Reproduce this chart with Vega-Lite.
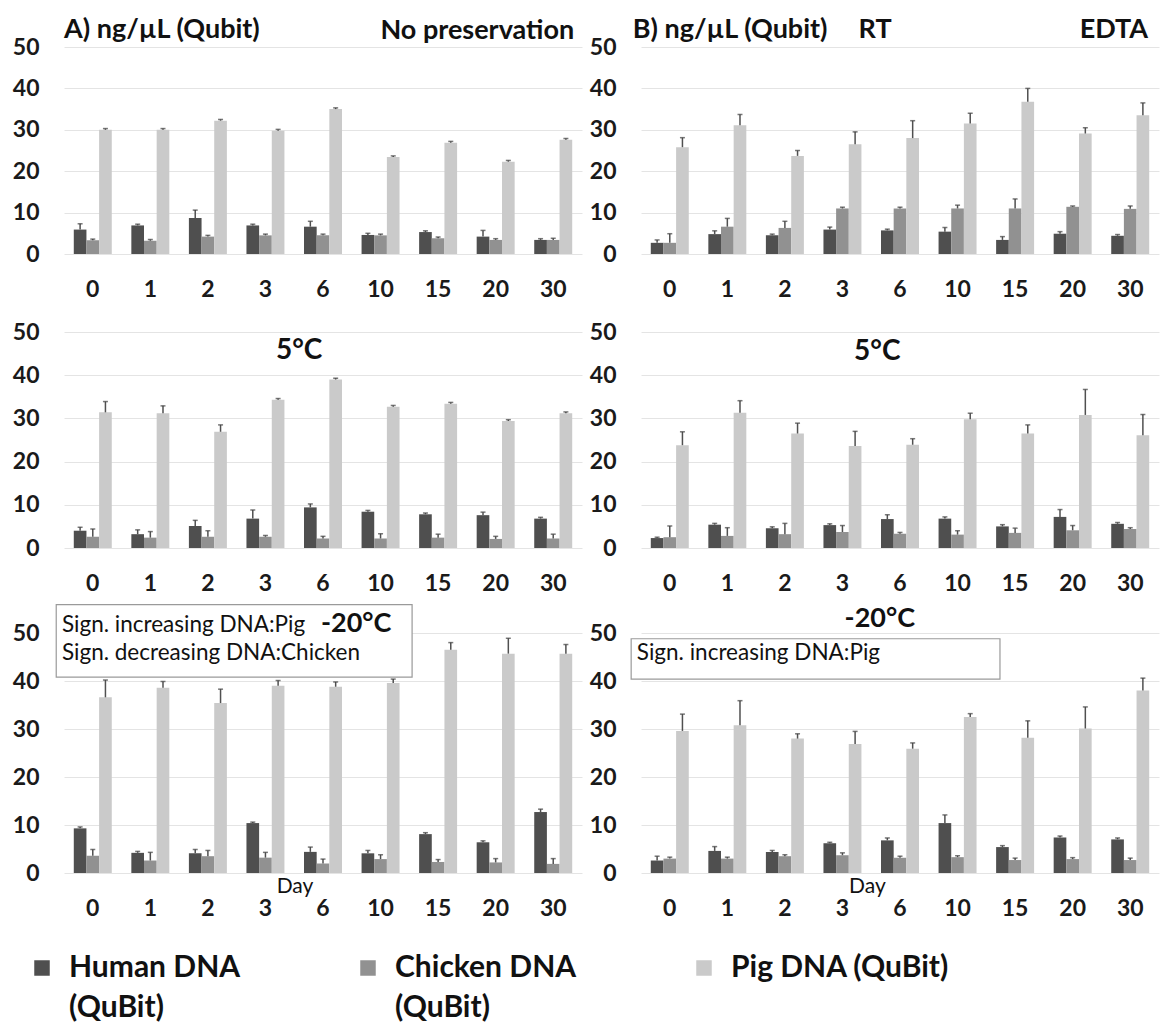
{
  "$schema": "https://vega.github.io/schema/vega-lite/v6.json",
  "background": "white",
  "padding": {"left": 12, "top": 16, "right": 6, "bottom": 6},
  "datasets": {
    "bars": [
      {"p":"A1","day":0,"s":"Human DNA (QuBit)","v":5.9,"e":7.3},
      {"p":"A1","day":0,"s":"Chicken DNA (QuBit)","v":3.3,"e":3.6},
      {"p":"A1","day":0,"s":"Pig DNA (QuBit)","v":30.0,"e":30.3},
      {"p":"A1","day":1,"s":"Human DNA (QuBit)","v":6.9,"e":7.2},
      {"p":"A1","day":1,"s":"Chicken DNA (QuBit)","v":3.2,"e":3.5},
      {"p":"A1","day":1,"s":"Pig DNA (QuBit)","v":30.0,"e":30.3},
      {"p":"A1","day":2,"s":"Human DNA (QuBit)","v":8.7,"e":10.6},
      {"p":"A1","day":2,"s":"Chicken DNA (QuBit)","v":4.2,"e":4.5},
      {"p":"A1","day":2,"s":"Pig DNA (QuBit)","v":32.2,"e":32.5},
      {"p":"A1","day":3,"s":"Human DNA (QuBit)","v":6.9,"e":7.2},
      {"p":"A1","day":3,"s":"Chicken DNA (QuBit)","v":4.5,"e":4.8},
      {"p":"A1","day":3,"s":"Pig DNA (QuBit)","v":29.8,"e":30.1},
      {"p":"A1","day":6,"s":"Human DNA (QuBit)","v":6.6,"e":7.9},
      {"p":"A1","day":6,"s":"Chicken DNA (QuBit)","v":4.5,"e":4.8},
      {"p":"A1","day":6,"s":"Pig DNA (QuBit)","v":35.0,"e":35.3},
      {"p":"A1","day":10,"s":"Human DNA (QuBit)","v":4.6,"e":5.0},
      {"p":"A1","day":10,"s":"Chicken DNA (QuBit)","v":4.5,"e":4.8},
      {"p":"A1","day":10,"s":"Pig DNA (QuBit)","v":23.4,"e":23.7},
      {"p":"A1","day":15,"s":"Human DNA (QuBit)","v":5.3,"e":5.6},
      {"p":"A1","day":15,"s":"Chicken DNA (QuBit)","v":3.8,"e":4.1},
      {"p":"A1","day":15,"s":"Pig DNA (QuBit)","v":26.9,"e":27.2},
      {"p":"A1","day":20,"s":"Human DNA (QuBit)","v":4.2,"e":5.7},
      {"p":"A1","day":20,"s":"Chicken DNA (QuBit)","v":3.4,"e":3.7},
      {"p":"A1","day":20,"s":"Pig DNA (QuBit)","v":22.3,"e":22.6},
      {"p":"A1","day":30,"s":"Human DNA (QuBit)","v":3.4,"e":3.7},
      {"p":"A1","day":30,"s":"Chicken DNA (QuBit)","v":3.4,"e":3.8},
      {"p":"A1","day":30,"s":"Pig DNA (QuBit)","v":27.6,"e":27.9},

      {"p":"B1","day":0,"s":"Human DNA (QuBit)","v":2.7,"e":3.4},
      {"p":"B1","day":0,"s":"Chicken DNA (QuBit)","v":2.7,"e":4.9},
      {"p":"B1","day":0,"s":"Pig DNA (QuBit)","v":25.8,"e":28.1},
      {"p":"B1","day":1,"s":"Human DNA (QuBit)","v":4.8,"e":5.6},
      {"p":"B1","day":1,"s":"Chicken DNA (QuBit)","v":6.6,"e":8.6},
      {"p":"B1","day":1,"s":"Pig DNA (QuBit)","v":31.1,"e":33.7},
      {"p":"B1","day":2,"s":"Human DNA (QuBit)","v":4.5,"e":4.8},
      {"p":"B1","day":2,"s":"Chicken DNA (QuBit)","v":6.3,"e":7.9},
      {"p":"B1","day":2,"s":"Pig DNA (QuBit)","v":23.7,"e":25.0},
      {"p":"B1","day":3,"s":"Human DNA (QuBit)","v":5.9,"e":6.5},
      {"p":"B1","day":3,"s":"Chicken DNA (QuBit)","v":11.0,"e":11.3},
      {"p":"B1","day":3,"s":"Pig DNA (QuBit)","v":26.5,"e":29.5},
      {"p":"B1","day":6,"s":"Human DNA (QuBit)","v":5.7,"e":6.0},
      {"p":"B1","day":6,"s":"Chicken DNA (QuBit)","v":11.0,"e":11.3},
      {"p":"B1","day":6,"s":"Pig DNA (QuBit)","v":28.0,"e":32.2},
      {"p":"B1","day":10,"s":"Human DNA (QuBit)","v":5.4,"e":6.4},
      {"p":"B1","day":10,"s":"Chicken DNA (QuBit)","v":11.0,"e":11.8},
      {"p":"B1","day":10,"s":"Pig DNA (QuBit)","v":31.5,"e":34.0},
      {"p":"B1","day":15,"s":"Human DNA (QuBit)","v":3.4,"e":4.2},
      {"p":"B1","day":15,"s":"Chicken DNA (QuBit)","v":11.0,"e":13.3},
      {"p":"B1","day":15,"s":"Pig DNA (QuBit)","v":36.8,"e":40.0},
      {"p":"B1","day":20,"s":"Human DNA (QuBit)","v":4.9,"e":5.4},
      {"p":"B1","day":20,"s":"Chicken DNA (QuBit)","v":11.4,"e":11.6},
      {"p":"B1","day":20,"s":"Pig DNA (QuBit)","v":29.1,"e":30.5},
      {"p":"B1","day":30,"s":"Human DNA (QuBit)","v":4.4,"e":4.7},
      {"p":"B1","day":30,"s":"Chicken DNA (QuBit)","v":10.9,"e":11.6},
      {"p":"B1","day":30,"s":"Pig DNA (QuBit)","v":33.5,"e":36.5},

      {"p":"A2","day":0,"s":"Human DNA (QuBit)","v":4.0,"e":4.8},
      {"p":"A2","day":0,"s":"Chicken DNA (QuBit)","v":2.6,"e":4.4},
      {"p":"A2","day":0,"s":"Pig DNA (QuBit)","v":31.4,"e":33.9},
      {"p":"A2","day":1,"s":"Human DNA (QuBit)","v":3.2,"e":4.2},
      {"p":"A2","day":1,"s":"Chicken DNA (QuBit)","v":2.4,"e":3.8},
      {"p":"A2","day":1,"s":"Pig DNA (QuBit)","v":31.2,"e":32.9},
      {"p":"A2","day":2,"s":"Human DNA (QuBit)","v":5.1,"e":6.4},
      {"p":"A2","day":2,"s":"Chicken DNA (QuBit)","v":2.6,"e":4.0},
      {"p":"A2","day":2,"s":"Pig DNA (QuBit)","v":26.9,"e":28.5},
      {"p":"A2","day":3,"s":"Human DNA (QuBit)","v":6.8,"e":8.8},
      {"p":"A2","day":3,"s":"Chicken DNA (QuBit)","v":2.6,"e":2.9},
      {"p":"A2","day":3,"s":"Pig DNA (QuBit)","v":34.3,"e":34.6},
      {"p":"A2","day":6,"s":"Human DNA (QuBit)","v":9.4,"e":10.2},
      {"p":"A2","day":6,"s":"Chicken DNA (QuBit)","v":2.2,"e":2.7},
      {"p":"A2","day":6,"s":"Pig DNA (QuBit)","v":39.0,"e":39.3},
      {"p":"A2","day":10,"s":"Human DNA (QuBit)","v":8.4,"e":8.7},
      {"p":"A2","day":10,"s":"Chicken DNA (QuBit)","v":2.2,"e":3.3},
      {"p":"A2","day":10,"s":"Pig DNA (QuBit)","v":32.7,"e":33.0},
      {"p":"A2","day":15,"s":"Human DNA (QuBit)","v":7.8,"e":8.1},
      {"p":"A2","day":15,"s":"Chicken DNA (QuBit)","v":2.4,"e":3.2},
      {"p":"A2","day":15,"s":"Pig DNA (QuBit)","v":33.4,"e":33.7},
      {"p":"A2","day":20,"s":"Human DNA (QuBit)","v":7.6,"e":8.3},
      {"p":"A2","day":20,"s":"Chicken DNA (QuBit)","v":2.1,"e":2.7},
      {"p":"A2","day":20,"s":"Pig DNA (QuBit)","v":29.4,"e":29.7},
      {"p":"A2","day":30,"s":"Human DNA (QuBit)","v":6.8,"e":7.1},
      {"p":"A2","day":30,"s":"Chicken DNA (QuBit)","v":2.2,"e":3.2},
      {"p":"A2","day":30,"s":"Pig DNA (QuBit)","v":31.2,"e":31.5},

      {"p":"B2","day":0,"s":"Human DNA (QuBit)","v":2.3,"e":2.5},
      {"p":"B2","day":0,"s":"Chicken DNA (QuBit)","v":2.5,"e":5.1},
      {"p":"B2","day":0,"s":"Pig DNA (QuBit)","v":23.8,"e":26.9},
      {"p":"B2","day":1,"s":"Human DNA (QuBit)","v":5.4,"e":5.7},
      {"p":"B2","day":1,"s":"Chicken DNA (QuBit)","v":2.8,"e":4.7},
      {"p":"B2","day":1,"s":"Pig DNA (QuBit)","v":31.3,"e":34.1},
      {"p":"B2","day":2,"s":"Human DNA (QuBit)","v":4.6,"e":4.9},
      {"p":"B2","day":2,"s":"Chicken DNA (QuBit)","v":3.2,"e":5.7},
      {"p":"B2","day":2,"s":"Pig DNA (QuBit)","v":26.5,"e":28.9},
      {"p":"B2","day":3,"s":"Human DNA (QuBit)","v":5.3,"e":5.6},
      {"p":"B2","day":3,"s":"Chicken DNA (QuBit)","v":3.7,"e":5.2},
      {"p":"B2","day":3,"s":"Pig DNA (QuBit)","v":23.6,"e":27.0},
      {"p":"B2","day":6,"s":"Human DNA (QuBit)","v":6.7,"e":7.7},
      {"p":"B2","day":6,"s":"Chicken DNA (QuBit)","v":3.3,"e":3.6},
      {"p":"B2","day":6,"s":"Pig DNA (QuBit)","v":23.9,"e":25.3},
      {"p":"B2","day":10,"s":"Human DNA (QuBit)","v":6.8,"e":7.2},
      {"p":"B2","day":10,"s":"Chicken DNA (QuBit)","v":3.1,"e":4.0},
      {"p":"B2","day":10,"s":"Pig DNA (QuBit)","v":29.8,"e":31.2},
      {"p":"B2","day":15,"s":"Human DNA (QuBit)","v":5.0,"e":5.4},
      {"p":"B2","day":15,"s":"Chicken DNA (QuBit)","v":3.5,"e":4.6},
      {"p":"B2","day":15,"s":"Pig DNA (QuBit)","v":26.5,"e":28.5},
      {"p":"B2","day":20,"s":"Human DNA (QuBit)","v":7.2,"e":8.9},
      {"p":"B2","day":20,"s":"Chicken DNA (QuBit)","v":4.1,"e":5.2},
      {"p":"B2","day":20,"s":"Pig DNA (QuBit)","v":30.8,"e":36.7},
      {"p":"B2","day":30,"s":"Human DNA (QuBit)","v":5.6,"e":5.9},
      {"p":"B2","day":30,"s":"Chicken DNA (QuBit)","v":4.4,"e":4.7},
      {"p":"B2","day":30,"s":"Pig DNA (QuBit)","v":26.1,"e":30.9},

      {"p":"A3","day":0,"s":"Human DNA (QuBit)","v":9.3,"e":9.6},
      {"p":"A3","day":0,"s":"Chicken DNA (QuBit)","v":3.6,"e":4.9},
      {"p":"A3","day":0,"s":"Pig DNA (QuBit)","v":36.6,"e":40.2},
      {"p":"A3","day":1,"s":"Human DNA (QuBit)","v":4.2,"e":4.5},
      {"p":"A3","day":1,"s":"Chicken DNA (QuBit)","v":2.6,"e":4.3},
      {"p":"A3","day":1,"s":"Pig DNA (QuBit)","v":38.6,"e":39.9},
      {"p":"A3","day":2,"s":"Human DNA (QuBit)","v":4.1,"e":4.9},
      {"p":"A3","day":2,"s":"Chicken DNA (QuBit)","v":3.5,"e":4.7},
      {"p":"A3","day":2,"s":"Pig DNA (QuBit)","v":35.4,"e":38.3},
      {"p":"A3","day":3,"s":"Human DNA (QuBit)","v":10.4,"e":10.6},
      {"p":"A3","day":3,"s":"Chicken DNA (QuBit)","v":3.2,"e":4.3},
      {"p":"A3","day":3,"s":"Pig DNA (QuBit)","v":39.0,"e":40.1},
      {"p":"A3","day":6,"s":"Human DNA (QuBit)","v":4.4,"e":5.4},
      {"p":"A3","day":6,"s":"Chicken DNA (QuBit)","v":2.0,"e":2.9},
      {"p":"A3","day":6,"s":"Pig DNA (QuBit)","v":38.8,"e":39.8},
      {"p":"A3","day":10,"s":"Human DNA (QuBit)","v":4.1,"e":4.7},
      {"p":"A3","day":10,"s":"Chicken DNA (QuBit)","v":2.9,"e":3.8},
      {"p":"A3","day":10,"s":"Pig DNA (QuBit)","v":39.6,"e":40.4},
      {"p":"A3","day":15,"s":"Human DNA (QuBit)","v":8.1,"e":8.4},
      {"p":"A3","day":15,"s":"Chicken DNA (QuBit)","v":2.3,"e":2.8},
      {"p":"A3","day":15,"s":"Pig DNA (QuBit)","v":46.5,"e":48.0},
      {"p":"A3","day":20,"s":"Human DNA (QuBit)","v":6.4,"e":6.7},
      {"p":"A3","day":20,"s":"Chicken DNA (QuBit)","v":2.2,"e":3.0},
      {"p":"A3","day":20,"s":"Pig DNA (QuBit)","v":45.7,"e":48.9},
      {"p":"A3","day":30,"s":"Human DNA (QuBit)","v":12.7,"e":13.3},
      {"p":"A3","day":30,"s":"Chicken DNA (QuBit)","v":1.9,"e":3.0},
      {"p":"A3","day":30,"s":"Pig DNA (QuBit)","v":45.7,"e":47.6},

      {"p":"B3","day":0,"s":"Human DNA (QuBit)","v":2.6,"e":3.5},
      {"p":"B3","day":0,"s":"Chicken DNA (QuBit)","v":3.0,"e":3.3},
      {"p":"B3","day":0,"s":"Pig DNA (QuBit)","v":29.6,"e":33.1},
      {"p":"B3","day":1,"s":"Human DNA (QuBit)","v":4.6,"e":5.5},
      {"p":"B3","day":1,"s":"Chicken DNA (QuBit)","v":3.0,"e":3.3},
      {"p":"B3","day":1,"s":"Pig DNA (QuBit)","v":30.8,"e":35.9},
      {"p":"B3","day":2,"s":"Human DNA (QuBit)","v":4.4,"e":4.7},
      {"p":"B3","day":2,"s":"Chicken DNA (QuBit)","v":3.5,"e":3.8},
      {"p":"B3","day":2,"s":"Pig DNA (QuBit)","v":28.0,"e":29.0},
      {"p":"B3","day":3,"s":"Human DNA (QuBit)","v":6.2,"e":6.4},
      {"p":"B3","day":3,"s":"Chicken DNA (QuBit)","v":3.7,"e":4.2},
      {"p":"B3","day":3,"s":"Pig DNA (QuBit)","v":26.9,"e":29.5},
      {"p":"B3","day":6,"s":"Human DNA (QuBit)","v":6.8,"e":7.3},
      {"p":"B3","day":6,"s":"Chicken DNA (QuBit)","v":3.2,"e":3.5},
      {"p":"B3","day":6,"s":"Pig DNA (QuBit)","v":25.9,"e":27.1},
      {"p":"B3","day":10,"s":"Human DNA (QuBit)","v":10.4,"e":12.1},
      {"p":"B3","day":10,"s":"Chicken DNA (QuBit)","v":3.3,"e":3.6},
      {"p":"B3","day":10,"s":"Pig DNA (QuBit)","v":32.5,"e":33.2},
      {"p":"B3","day":15,"s":"Human DNA (QuBit)","v":5.4,"e":5.7},
      {"p":"B3","day":15,"s":"Chicken DNA (QuBit)","v":2.7,"e":3.1},
      {"p":"B3","day":15,"s":"Pig DNA (QuBit)","v":28.2,"e":31.7},
      {"p":"B3","day":20,"s":"Human DNA (QuBit)","v":7.4,"e":7.7},
      {"p":"B3","day":20,"s":"Chicken DNA (QuBit)","v":2.9,"e":3.2},
      {"p":"B3","day":20,"s":"Pig DNA (QuBit)","v":30.1,"e":34.6},
      {"p":"B3","day":30,"s":"Human DNA (QuBit)","v":7.0,"e":7.3},
      {"p":"B3","day":30,"s":"Chicken DNA (QuBit)","v":2.7,"e":3.1},
      {"p":"B3","day":30,"s":"Pig DNA (QuBit)","v":38.0,"e":40.6}
    ]
  },
  "config": {
    "font": "Lato",
    "view": {"stroke": null},
    "axis": {"labelFont": "Lato", "labelFontWeight": "bold", "labelFontSize": 23, "labelColor": "#1a1a1a", "domain": false, "ticks": false},
    "axisY": {"grid": true, "gridColor": "#e4e4e4", "gridWidth": 1, "labelPadding": 25},
    "axisX": {"grid": false, "labelAngle": 0, "labelPadding": 24},
    "text": {"font": "Lato", "color": "#111111"}
  },
  "spacing": 20,
  "vconcat": [
    {
      "hconcat": [
        {
          "width": 518, "height": 207,
          "layer": [
            {
              "data": {"name": "bars"},
              "transform": [{"filter": "datum.p == 'A1'"}],
              "layer": [
                {"mark": {"type": "bar"},
                 "encoding": {
                   "x": {"field": "day", "type": "ordinal", "title": null, "scale": {"paddingInner": 0.34, "paddingOuter": 0.17}},
                   "xOffset": {"field": "s", "type": "nominal", "sort": ["Human DNA (QuBit)", "Chicken DNA (QuBit)", "Pig DNA (QuBit)"]},
                   "y": {"field": "v", "type": "quantitative", "title": null, "scale": {"domain": [0, 50]}, "axis": {"values": [0, 10, 20, 30, 40, 50]}},
                   "color": {"field": "s", "type": "nominal", "title": null,
                     "scale": {"domain": ["Human DNA (QuBit)", "Chicken DNA (QuBit)", "Pig DNA (QuBit)"], "range": ["#4f4f4f", "#919191", "#cacaca"]},
                     "legend": {"orient": "none", "legendX": -37, "legendY": 906, "direction": "horizontal", "columns": 3, "title": null,
                       "symbolType": "square", "symbolSize": 240, "symbolStrokeWidth": 0, "labelFontSize": 30, "labelFontWeight": "bold", "labelFont": "Lato",
                       "labelColor": "#111111", "labelLimit": 500, "columnPadding": 112, "labelOffset": 12, "labelBaseline": "top",
                       "labelExpr": "datum.label == 'Pig DNA (QuBit)' ? [datum.label, ' '] : [replace(datum.label, ' (QuBit)', ''), '(QuBit)']",
                       "encode": {"labels": {"update": {"lineHeight": {"value": 40}, "dy": {"value": -15}}}}}}
                 }},
                {"mark": {"type": "rule", "color": "#505050", "strokeWidth": 1.5},
                 "encoding": {
                   "x": {"field": "day", "type": "ordinal"},
                   "xOffset": {"field": "s", "type": "nominal", "sort": ["Human DNA (QuBit)", "Chicken DNA (QuBit)", "Pig DNA (QuBit)"]},
                   "y": {"field": "v", "type": "quantitative"}, "y2": {"field": "e"}}},
                {"mark": {"type": "tick", "orient": "horizontal", "size": 5, "thickness": 1.5, "color": "#404040"},
                 "encoding": {
                   "x": {"field": "day", "type": "ordinal"},
                   "xOffset": {"field": "s", "type": "nominal", "sort": ["Human DNA (QuBit)", "Chicken DNA (QuBit)", "Pig DNA (QuBit)"]},
                   "y": {"field": "e", "type": "quantitative"}}}
              ]
            },
            {"data": {"values": [{}]}, "mark": {"type": "text", "text": "A) ng/µL (Qubit)", "align": "left", "baseline": "middle", "fontSize": 27, "fontWeight": "bold"},
             "encoding": {"x": {"datum": 0.0, "type": "quantitative", "scale": {"domain": [0, 1]}, "axis": null}, "y": {"datum": 54.0, "type": "quantitative", "scale": {"domain": [0, 50]}}}},
            {"data": {"values": [{}]}, "mark": {"type": "text", "text": "No preservation", "align": "right", "baseline": "middle", "fontSize": 27, "fontWeight": "bold"},
             "encoding": {"x": {"datum": 0.985, "type": "quantitative", "scale": {"domain": [0, 1]}, "axis": null}, "y": {"datum": 53.8, "type": "quantitative", "scale": {"domain": [0, 50]}}}}
          ],
          "resolve": {"scale": {"x": "independent"}}
        },
        {
          "width": 518, "height": 207,
          "layer": [
            {
              "data": {"name": "bars"},
              "transform": [{"filter": "datum.p == 'B1'"}],
              "layer": [
                {"mark": {"type": "bar"},
                 "encoding": {
                   "x": {"field": "day", "type": "ordinal", "title": null, "scale": {"paddingInner": 0.34, "paddingOuter": 0.17}},
                   "xOffset": {"field": "s", "type": "nominal", "sort": ["Human DNA (QuBit)", "Chicken DNA (QuBit)", "Pig DNA (QuBit)"]},
                   "y": {"field": "v", "type": "quantitative", "title": null, "scale": {"domain": [0, 50]}, "axis": {"values": [0, 10, 20, 30, 40, 50]}},
                   "color": {"field": "s", "type": "nominal", "title": null,
                     "scale": {"domain": ["Human DNA (QuBit)", "Chicken DNA (QuBit)", "Pig DNA (QuBit)"], "range": ["#4f4f4f", "#919191", "#cacaca"]}}
                 }},
                {"mark": {"type": "rule", "color": "#505050", "strokeWidth": 1.5},
                 "encoding": {
                   "x": {"field": "day", "type": "ordinal"},
                   "xOffset": {"field": "s", "type": "nominal", "sort": ["Human DNA (QuBit)", "Chicken DNA (QuBit)", "Pig DNA (QuBit)"]},
                   "y": {"field": "v", "type": "quantitative"}, "y2": {"field": "e"}}},
                {"mark": {"type": "tick", "orient": "horizontal", "size": 5, "thickness": 1.5, "color": "#404040"},
                 "encoding": {
                   "x": {"field": "day", "type": "ordinal"},
                   "xOffset": {"field": "s", "type": "nominal", "sort": ["Human DNA (QuBit)", "Chicken DNA (QuBit)", "Pig DNA (QuBit)"]},
                   "y": {"field": "e", "type": "quantitative"}}}
              ]
            },
            {"data": {"values": [{}]}, "mark": {"type": "text", "text": "B) ng/µL (Qubit)", "align": "left", "baseline": "middle", "fontSize": 27, "fontWeight": "bold"},
             "encoding": {"x": {"datum": -0.016, "type": "quantitative", "scale": {"domain": [0, 1]}, "axis": null}, "y": {"datum": 54.0, "type": "quantitative", "scale": {"domain": [0, 50]}}}},
            {"data": {"values": [{}]}, "mark": {"type": "text", "text": "RT", "align": "left", "baseline": "middle", "fontSize": 27, "fontWeight": "bold"},
             "encoding": {"x": {"datum": 0.42, "type": "quantitative", "scale": {"domain": [0, 1]}, "axis": null}, "y": {"datum": 54.0, "type": "quantitative", "scale": {"domain": [0, 50]}}}},
            {"data": {"values": [{}]}, "mark": {"type": "text", "text": "EDTA", "align": "right", "baseline": "middle", "fontSize": 27, "fontWeight": "bold"},
             "encoding": {"x": {"datum": 0.979, "type": "quantitative", "scale": {"domain": [0, 1]}, "axis": null}, "y": {"datum": 54.0, "type": "quantitative", "scale": {"domain": [0, 50]}}}}
          ],
          "resolve": {"scale": {"x": "independent"}}
        }
      ],
      "spacing": 7
    },
    {
      "vconcat": [
        {
          "hconcat": [
            {
              "width": 518, "height": 216,
              "layer": [
                {
                  "data": {"name": "bars"},
                  "transform": [{"filter": "datum.p == 'A2'"}],
                  "layer": [
                    {"mark": {"type": "bar"},
                     "encoding": {
                       "x": {"field": "day", "type": "ordinal", "title": null, "scale": {"paddingInner": 0.34, "paddingOuter": 0.17}},
                       "xOffset": {"field": "s", "type": "nominal", "sort": ["Human DNA (QuBit)", "Chicken DNA (QuBit)", "Pig DNA (QuBit)"]},
                       "y": {"field": "v", "type": "quantitative", "title": null, "scale": {"domain": [0, 50]}, "axis": {"values": [0, 10, 20, 30, 40, 50]}},
                       "color": {"field": "s", "type": "nominal", "title": null,
                         "scale": {"domain": ["Human DNA (QuBit)", "Chicken DNA (QuBit)", "Pig DNA (QuBit)"], "range": ["#4f4f4f", "#919191", "#cacaca"]}}
                     }},
                    {"mark": {"type": "rule", "color": "#505050", "strokeWidth": 1.5},
                     "encoding": {
                       "x": {"field": "day", "type": "ordinal"},
                       "xOffset": {"field": "s", "type": "nominal", "sort": ["Human DNA (QuBit)", "Chicken DNA (QuBit)", "Pig DNA (QuBit)"]},
                       "y": {"field": "v", "type": "quantitative"}, "y2": {"field": "e"}}},
                    {"mark": {"type": "tick", "orient": "horizontal", "size": 5, "thickness": 1.5, "color": "#404040"},
                     "encoding": {
                       "x": {"field": "day", "type": "ordinal"},
                       "xOffset": {"field": "s", "type": "nominal", "sort": ["Human DNA (QuBit)", "Chicken DNA (QuBit)", "Pig DNA (QuBit)"]},
                       "y": {"field": "e", "type": "quantitative"}}}
                  ]
                },
                {"data": {"values": [{}]}, "mark": {"type": "text", "text": "5°C", "align": "center", "baseline": "middle", "fontSize": 28, "fontWeight": "bold"},
                 "encoding": {"x": {"datum": 0.454, "type": "quantitative", "scale": {"domain": [0, 1]}, "axis": null}, "y": {"datum": 45.6, "type": "quantitative", "scale": {"domain": [0, 50]}}}}
              ],
              "resolve": {"scale": {"x": "independent"}}
            },
            {
              "width": 518, "height": 216,
              "layer": [
                {
                  "data": {"name": "bars"},
                  "transform": [{"filter": "datum.p == 'B2'"}],
                  "layer": [
                    {"mark": {"type": "bar"},
                     "encoding": {
                       "x": {"field": "day", "type": "ordinal", "title": null, "scale": {"paddingInner": 0.34, "paddingOuter": 0.17}},
                       "xOffset": {"field": "s", "type": "nominal", "sort": ["Human DNA (QuBit)", "Chicken DNA (QuBit)", "Pig DNA (QuBit)"]},
                       "y": {"field": "v", "type": "quantitative", "title": null, "scale": {"domain": [0, 50]}, "axis": {"values": [0, 10, 20, 30, 40, 50]}},
                       "color": {"field": "s", "type": "nominal", "title": null,
                         "scale": {"domain": ["Human DNA (QuBit)", "Chicken DNA (QuBit)", "Pig DNA (QuBit)"], "range": ["#4f4f4f", "#919191", "#cacaca"]}}
                     }},
                    {"mark": {"type": "rule", "color": "#505050", "strokeWidth": 1.5},
                     "encoding": {
                       "x": {"field": "day", "type": "ordinal"},
                       "xOffset": {"field": "s", "type": "nominal", "sort": ["Human DNA (QuBit)", "Chicken DNA (QuBit)", "Pig DNA (QuBit)"]},
                       "y": {"field": "v", "type": "quantitative"}, "y2": {"field": "e"}}},
                    {"mark": {"type": "tick", "orient": "horizontal", "size": 5, "thickness": 1.5, "color": "#404040"},
                     "encoding": {
                       "x": {"field": "day", "type": "ordinal"},
                       "xOffset": {"field": "s", "type": "nominal", "sort": ["Human DNA (QuBit)", "Chicken DNA (QuBit)", "Pig DNA (QuBit)"]},
                       "y": {"field": "e", "type": "quantitative"}}}
                  ]
                },
                {"data": {"values": [{}]}, "mark": {"type": "text", "text": "5°C", "align": "center", "baseline": "middle", "fontSize": 28, "fontWeight": "bold"},
                 "encoding": {"x": {"datum": 0.456, "type": "quantitative", "scale": {"domain": [0, 1]}, "axis": null}, "y": {"datum": 45.4, "type": "quantitative", "scale": {"domain": [0, 50]}}}}
              ],
              "resolve": {"scale": {"x": "independent"}}
            }
          ],
          "spacing": 7
        },
        {
          "hconcat": [
            {
              "width": 518, "height": 240,
              "layer": [
                {
                  "data": {"name": "bars"},
                  "transform": [{"filter": "datum.p == 'A3'"}],
                  "layer": [
                    {"mark": {"type": "bar"},
                     "encoding": {
                       "x": {"field": "day", "type": "ordinal", "title": null, "scale": {"paddingInner": 0.34, "paddingOuter": 0.17}},
                       "xOffset": {"field": "s", "type": "nominal", "sort": ["Human DNA (QuBit)", "Chicken DNA (QuBit)", "Pig DNA (QuBit)"]},
                       "y": {"field": "v", "type": "quantitative", "title": null, "scale": {"domain": [0, 50]}, "axis": {"values": [0, 10, 20, 30, 40, 50]}},
                       "color": {"field": "s", "type": "nominal", "title": null,
                         "scale": {"domain": ["Human DNA (QuBit)", "Chicken DNA (QuBit)", "Pig DNA (QuBit)"], "range": ["#4f4f4f", "#919191", "#cacaca"]}}
                     }},
                    {"mark": {"type": "rule", "color": "#505050", "strokeWidth": 1.5},
                     "encoding": {
                       "x": {"field": "day", "type": "ordinal"},
                       "xOffset": {"field": "s", "type": "nominal", "sort": ["Human DNA (QuBit)", "Chicken DNA (QuBit)", "Pig DNA (QuBit)"]},
                       "y": {"field": "v", "type": "quantitative"}, "y2": {"field": "e"}}},
                    {"mark": {"type": "tick", "orient": "horizontal", "size": 5, "thickness": 1.5, "color": "#404040"},
                     "encoding": {
                       "x": {"field": "day", "type": "ordinal"},
                       "xOffset": {"field": "s", "type": "nominal", "sort": ["Human DNA (QuBit)", "Chicken DNA (QuBit)", "Pig DNA (QuBit)"]},
                       "y": {"field": "e", "type": "quantitative"}}}
                  ]
                },
                {"data": {"values": [{}]}, "mark": {"type": "rect", "fill": "white", "stroke": "#9a9a9a", "strokeWidth": 1.2},
                 "encoding": {"x": {"datum": -0.015, "type": "quantitative", "scale": {"domain": [0, 1]}, "axis": null}, "x2": {"datum": 0.672},
                   "y": {"datum": 40.8, "type": "quantitative", "scale": {"domain": [0, 50]}}, "y2": {"datum": 55.9}}},
                {"data": {"values": [{}]}, "mark": {"type": "text", "text": "Sign. increasing DNA:Pig", "align": "left", "baseline": "middle", "fontSize": 22.5},
                 "encoding": {"x": {"datum": -0.004, "type": "quantitative", "scale": {"domain": [0, 1]}, "axis": null}, "y": {"datum": 51.7, "type": "quantitative", "scale": {"domain": [0, 50]}}}},
                {"data": {"values": [{}]}, "mark": {"type": "text", "text": "Sign. decreasing DNA:Chicken", "align": "left", "baseline": "middle", "fontSize": 22.5},
                 "encoding": {"x": {"datum": -0.004, "type": "quantitative", "scale": {"domain": [0, 1]}, "axis": null}, "y": {"datum": 45.8, "type": "quantitative", "scale": {"domain": [0, 50]}}}},
                {"data": {"values": [{}]}, "mark": {"type": "text", "text": "-20°C", "align": "left", "baseline": "middle", "fontSize": 27, "fontWeight": "bold"},
                 "encoding": {"x": {"datum": 0.496, "type": "quantitative", "scale": {"domain": [0, 1]}, "axis": null}, "y": {"datum": 51.9, "type": "quantitative", "scale": {"domain": [0, 50]}}}},
                {"data": {"values": [{}]}, "mark": {"type": "text", "text": "Day", "align": "center", "baseline": "middle", "fontSize": 21},
                 "encoding": {"x": {"datum": 0.446, "type": "quantitative", "scale": {"domain": [0, 1]}, "axis": null}, "y": {"datum": -3.0, "type": "quantitative", "scale": {"domain": [0, 50]}}}}
              ],
              "resolve": {"scale": {"x": "independent"}}
            },
            {
              "width": 518, "height": 240,
              "layer": [
                {
                  "data": {"name": "bars"},
                  "transform": [{"filter": "datum.p == 'B3'"}],
                  "layer": [
                    {"mark": {"type": "bar"},
                     "encoding": {
                       "x": {"field": "day", "type": "ordinal", "title": null, "scale": {"paddingInner": 0.34, "paddingOuter": 0.17}},
                       "xOffset": {"field": "s", "type": "nominal", "sort": ["Human DNA (QuBit)", "Chicken DNA (QuBit)", "Pig DNA (QuBit)"]},
                       "y": {"field": "v", "type": "quantitative", "title": null, "scale": {"domain": [0, 50]}, "axis": {"values": [0, 10, 20, 30, 40, 50]}},
                       "color": {"field": "s", "type": "nominal", "title": null,
                         "scale": {"domain": ["Human DNA (QuBit)", "Chicken DNA (QuBit)", "Pig DNA (QuBit)"], "range": ["#4f4f4f", "#919191", "#cacaca"]}}
                     }},
                    {"mark": {"type": "rule", "color": "#505050", "strokeWidth": 1.5},
                     "encoding": {
                       "x": {"field": "day", "type": "ordinal"},
                       "xOffset": {"field": "s", "type": "nominal", "sort": ["Human DNA (QuBit)", "Chicken DNA (QuBit)", "Pig DNA (QuBit)"]},
                       "y": {"field": "v", "type": "quantitative"}, "y2": {"field": "e"}}},
                    {"mark": {"type": "tick", "orient": "horizontal", "size": 5, "thickness": 1.5, "color": "#404040"},
                     "encoding": {
                       "x": {"field": "day", "type": "ordinal"},
                       "xOffset": {"field": "s", "type": "nominal", "sort": ["Human DNA (QuBit)", "Chicken DNA (QuBit)", "Pig DNA (QuBit)"]},
                       "y": {"field": "e", "type": "quantitative"}}}
                  ]
                },
                {"data": {"values": [{}]}, "mark": {"type": "rect", "fill": "white", "stroke": "#9a9a9a", "strokeWidth": 1.2},
                 "encoding": {"x": {"datum": -0.019, "type": "quantitative", "scale": {"domain": [0, 1]}, "axis": null}, "x2": {"datum": 0.693},
                   "y": {"datum": 40.4, "type": "quantitative", "scale": {"domain": [0, 50]}}, "y2": {"datum": 48.8}}},
                {"data": {"values": [{}]}, "mark": {"type": "text", "text": "Sign. increasing DNA:Pig", "align": "left", "baseline": "middle", "fontSize": 22.5},
                 "encoding": {"x": {"datum": -0.008, "type": "quantitative", "scale": {"domain": [0, 1]}, "axis": null}, "y": {"datum": 45.8, "type": "quantitative", "scale": {"domain": [0, 50]}}}},
                {"data": {"values": [{}]}, "mark": {"type": "text", "text": "-20°C", "align": "center", "baseline": "middle", "fontSize": 27, "fontWeight": "bold"},
                 "encoding": {"x": {"datum": 0.461, "type": "quantitative", "scale": {"domain": [0, 1]}, "axis": null}, "y": {"datum": 52.9, "type": "quantitative", "scale": {"domain": [0, 50]}}}},
                {"data": {"values": [{}]}, "mark": {"type": "text", "text": "Day", "align": "center", "baseline": "middle", "fontSize": 21},
                 "encoding": {"x": {"datum": 0.437, "type": "quantitative", "scale": {"domain": [0, 1]}, "axis": null}, "y": {"datum": -3.0, "type": "quantitative", "scale": {"domain": [0, 50]}}}}
              ],
              "resolve": {"scale": {"x": "independent"}}
            }
          ],
          "spacing": 7
        }
      ],
      "spacing": 9
    }
  ]
}
